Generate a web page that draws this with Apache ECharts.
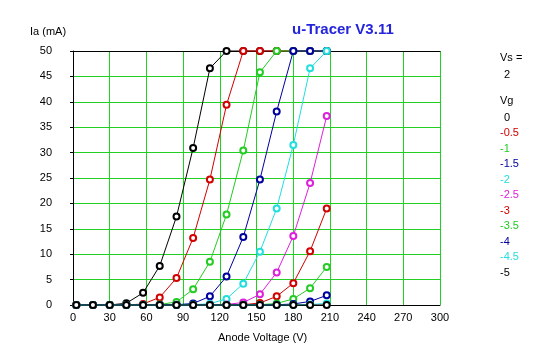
<!DOCTYPE html>
<html>
<head>
<meta charset="utf-8">
<script src="https://cdn.jsdelivr.net/npm/echarts@6/dist/echarts.min.js"></script>
<style>html,body{margin:0;padding:0;background:#fff}#c{width:547px;height:357px}</style>
</head>
<body>
<div id="c"></div>
<script>
// Anode voltage sweep points (V)
var anodeV = [2.7,16.3,30,43.6,57.3,70.9,84.6,98.2,111.9,125.5,139.2,152.8,166.5,180.1,193.8,207.4];
// Grid voltage labels
var vgLabels = ['0','-0.5','-1','-1.5','-2','-2.5','-3','-3.5','-4','-4.5','-5'];
// Anode current (mA) per grid voltage, clipped at 50 as drawn
var ia_0    = [0,0,0,0.35,2.4,7.7,17.4,30.9,46.6,50,50,50,50,50,50,50];
var ia_m05  = [0,0,0,0,0.2,1.5,5.3,13.2,24.7,39.4,50,50,50,50,50,50];
var ia_m1   = [0,0,0,0,0,0.1,0.6,3.1,8.5,17.8,30.4,45.8,50,50,50,50];
var ia_m15  = [0,0,0,0,0,0,0.05,0.3,1.7,5.6,13.4,24.7,38.1,50,50,50];
var ia_m2   = [0,0,0,0,0,0,0,0.05,0.25,1.2,4.2,10.5,19.0,31.5,46.6,50];
var ia_m25  = [0,0,0,0,0,0,0,0,0.05,0.1,0.5,2.1,6.4,13.6,24.0,37.2];
var ia_m3   = [0,0,0,0,0,0,0,0,0,0,0.05,0.4,1.7,4.3,10.6,19.0];
var ia_m35  = [0,0,0,0,0,0,0,0,0,0,0,0.05,0.3,1.2,3.3,7.5];
var ia_m4   = [0,0,0,0,0,0,0,0,0,0,0,0,0.05,0.2,0.7,1.9];
var ia_m45  = [0,0,0,0,0,0,0,0,0,0,0,0,0,0,0.1,0.3];
var ia_m5   = [0,0,0,0,0,0,0,0,0,0,0,0,0,0,0,0];
var xTicks = [0,30,60,90,120,150,180,210,240,270,300];
var yTicks = [0,5,10,15,20,25,30,35,40,45,50];

var allIa = [ia_0, ia_m05, ia_m1, ia_m15, ia_m2, ia_m25, ia_m3, ia_m35, ia_m4, ia_m45, ia_m5];
var colors = ['#000000','#d20000','#22cc22','#0000a0','#22dede','#dc20dc','#d20000','#22cc22','#0000a0','#22dede','#000000'];
var FONT = '"Liberation Sans", Arial, sans-serif';

var series = allIa.map(function(arr, k){
  return {
    name: 'Vg ' + vgLabels[k],
    type: 'line',
    data: arr.map(function(v,i){ return [anodeV[i], v]; }),
    symbol: 'emptyCircle',
    symbolSize: 6,
    showAllSymbol: true,
    lineStyle: {color: colors[k], width: 1},
    itemStyle: {color: colors[k], borderWidth: 1},
    clip: false,
    animation: false,
    z: 3 + k
  };
});

var graphic = [
  {type:'text', left:30, top:26, style:{text:'Ia (mA)', font:'11px '+FONT, fill:'#000'}},
  {type:'text', left:292, top:22, style:{text:'u-Tracer V3.11', font:'bold 15px '+FONT, fill:'#2424dc'}},
  {type:'text', left:218, top:332, style:{text:'Anode Voltage (V)', font:'11px '+FONT, fill:'#000'}},
  {type:'text', left:500, top:52, style:{text:'Vs =', font:'11px '+FONT, fill:'#000'}},
  {type:'text', left:504, top:69, style:{text:'2', font:'11px '+FONT, fill:'#000'}},
  {type:'text', left:500, top:95, style:{text:'Vg', font:'11px '+FONT, fill:'#000'}}
];
vgLabels.forEach(function(l, k){
  graphic.push({type:'text', left: (l.charAt(0)==='-') ? 500 : 504, top: 112 + k*15.5,
    style:{text:l, font:'11px '+FONT, fill:colors[k]}});
});

var chart = echarts.init(document.getElementById('c'), null, {renderer:'canvas'});
chart.setOption({
  animation: false,
  backgroundColor: '#ffffff',
  grid: {left:73, right:107, top:51, bottom:52, containLabel:false},
  xAxis: [{
    type:'value', min:0, max:300, interval:30, position:'bottom',
    axisLine:{show:true, onZero:false, lineStyle:{color:'#000', width:1}},
    axisTick:{show:false},
    axisLabel:{color:'#000', fontFamily:FONT, fontSize:11, margin:7},
    splitLine:{show:true, lineStyle:{color:'#22d022', width:1}}
  },{
    type:'value', min:0, max:300, interval:30, position:'top',
    axisLine:{show:true, onZero:false, lineStyle:{color:'#000', width:1}},
    axisTick:{show:false}, axisLabel:{show:false}, splitLine:{show:false}
  }],
  yAxis: {
    type:'value', min:0, max:50, interval:5,
    axisLine:{show:true, onZero:false, lineStyle:{color:'#000', width:1}},
    axisTick:{show:true, length:3, lineStyle:{color:'#000'}},
    axisLabel:{color:'#000', fontFamily:FONT, fontSize:11, margin:21},
    splitLine:{show:true, lineStyle:{color:'#22d022', width:1}}
  },
  graphic: graphic,
  series: series
});
</script>
</body>
</html>
